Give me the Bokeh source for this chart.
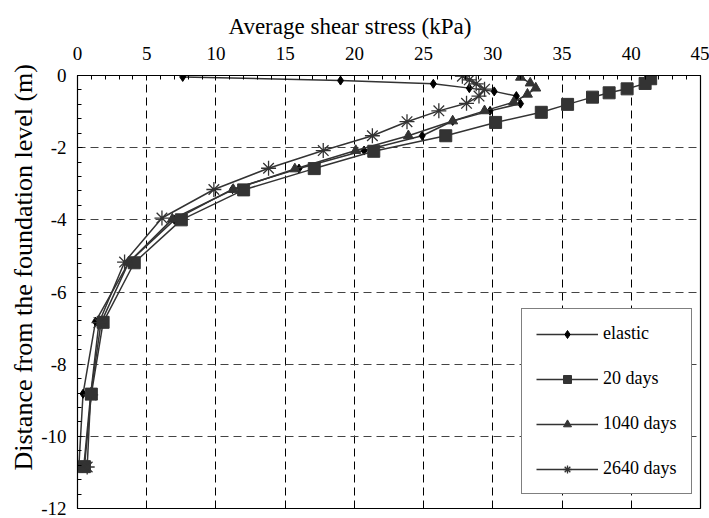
from bokeh.plotting import figure
from bokeh.models import Legend, LegendItem, SingleIntervalTicker, Range1d, Title
from bokeh.embed import file_html
from bokeh.resources import INLINE

# ---- data ----
elastic_x = [7.6, 19.0, 25.7, 28.3, 30.1, 31.7, 32.0, 29.8, 27.1, 24.9, 20.7, 16.0, 11.2, 7.0, 3.7, 1.3, 0.4, 0.1]
elastic_y = [-0.04, -0.14, -0.23, -0.35, -0.44, -0.57, -0.78, -0.98, -1.26, -1.67, -2.08, -2.58, -3.15, -4.0, -5.18, -6.82, -8.82, -10.82]

d20_x = [41.4, 41.0, 39.7, 38.4, 37.2, 35.4, 33.5, 30.2, 26.6, 21.4, 17.1, 12.0, 7.5, 4.1, 1.85, 1.0, 0.5]
d20_y = [-0.09, -0.22, -0.37, -0.48, -0.6, -0.8, -1.02, -1.3, -1.67, -2.1, -2.58, -3.17, -4.0, -5.19, -6.84, -8.83, -10.84]

d1040_x = [32.0, 32.7, 33.1, 32.5, 31.5, 29.4, 27.1, 23.9, 20.1, 15.7, 11.25, 6.85, 3.7, 1.7, 0.95, 0.45]
d1040_y = [-0.05, -0.21, -0.35, -0.52, -0.74, -0.98, -1.26, -1.67, -2.08, -2.59, -3.16, -3.98, -5.18, -6.85, -8.85, -10.85]

d2640_x = [27.8, 28.3, 28.8, 29.4, 29.0, 28.1, 26.1, 23.8, 21.3, 17.75, 13.8, 9.85, 6.1, 3.4, 1.55, 0.95, 0.7]
d2640_y = [-0.02, -0.12, -0.23, -0.38, -0.57, -0.77, -0.98, -1.28, -1.67, -2.08, -2.57, -3.16, -3.95, -5.17, -6.85, -8.85, -10.85]

series_names = ["elastic", "20 days", "1040 days", "2640 days"]

y_ticks = [0, -2, -4, -6, -8, -10, -12]
y_tick_labels = ["0", "-2", "-4", "-6", "-8", "-10", "-12"]

x_title = "Average shear stress (kPa)"
y_title = "Distance from the foundation level (m)"

FONT = "Liberation Serif"
INK = "#333333"

p = figure(width=709, height=518, output_backend="svg", toolbar_location=None,
           x_range=Range1d(0, 45), y_range=Range1d(-12, 0),
           x_axis_location="above", y_axis_location="left",
           min_border_left=77, min_border_right=9, min_border_top=75, min_border_bottom=10,
           background_fill_color="white", border_fill_color="white")

p.outline_line_color = "black"
p.outline_line_width = 1.2

xa = p.xaxis[0]
xa.ticker = SingleIntervalTicker(interval=5, num_minor_ticks=5)
ya = p.yaxis[0]
ya.ticker = SingleIntervalTicker(interval=2, num_minor_ticks=5)
ya.major_label_overrides = {float(v): s for v, s in zip(y_ticks, y_tick_labels)}

for ax in (xa, ya):
    ax.major_label_text_font = FONT
    ax.major_label_text_font_size = "19px"
    ax.major_label_text_color = "black"
    ax.axis_line_color = "black"
    ax.major_tick_in = 5
    ax.major_tick_out = 0
    ax.minor_tick_in = 4
    ax.minor_tick_out = 0
    ax.major_tick_line_color = "black"
    ax.minor_tick_line_color = "black"

xa.major_label_standoff = 16
ya.major_label_standoff = 11

# axis titles placed like the reference (off-centre)
p.add_layout(Title(text=x_title, align="left", offset=151, standoff=10,
                   text_font=FONT, text_font_size="23px", text_font_style="normal",
                   text_color="black"), "above")
p.add_layout(Title(text=y_title, align="left", offset=38, standoff=2,
                   text_font=FONT, text_font_size="26px", text_font_style="normal",
                   text_color="black"), "left")

p.xgrid.ticker = SingleIntervalTicker(interval=5)
p.ygrid.ticker = SingleIntervalTicker(interval=2)
p.xgrid.grid_line_color = "black"
p.xgrid.grid_line_dash = "8 5"
p.xgrid.grid_line_width = 1
p.ygrid.grid_line_color = "#444444"
p.ygrid.grid_line_dash = "8 5"
p.ygrid.grid_line_width = 1

items = []
specs = [
    (elastic_x, elastic_y, "diamond", 9, "black"),
    (d20_x, d20_y, "square", 12, INK),
    (d1040_x, d1040_y, "triangle", 10, INK),
    (d2640_x, d2640_y, "asterisk", 15, INK),
]
for (xs, ys, mk, sz, col), name in zip(specs, series_names):
    ln = p.line(xs, ys, line_color=INK, line_width=1.5)
    sc = p.scatter(xs, ys, marker=mk, size=sz, fill_color=col, line_color=col,
                   line_width=1.3 if mk == "asterisk" else 1)
    items.append(LegendItem(label=name, renderers=[ln, sc]))

legend = Legend(items=items, location=(444, 14),
                label_text_font=FONT, label_text_font_size="18px", label_text_color="black",
                glyph_width=62, glyph_height=20, label_height=20, label_standoff=5,
                spacing=24, padding=14, margin=0,
                border_line_color="black", border_line_width=1,
                background_fill_color="white", background_fill_alpha=1)
p.add_layout(legend, "center")

open("out.html", "w").write(file_html(p, INLINE))
